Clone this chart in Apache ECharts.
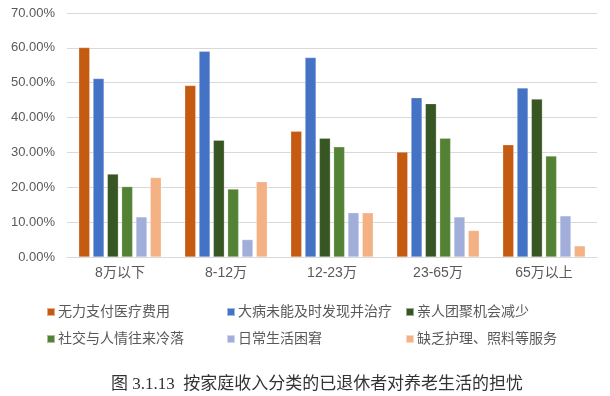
<!DOCTYPE html>
<html>
<head>
<meta charset="utf-8">
<script src="https://cdn.jsdelivr.net/npm/echarts@6/dist/echarts.min.js"></script>
<style>
html,body{margin:0;padding:0;background:#fff;}
#c{width:610px;height:396px;}
</style>
</head>
<body>
<div id="c"></div>
<script>
const categories = ['8万以下', '8-12万', '12-23万', '23-65万', '65万以上'];
const seriesNames = ['无力支付医疗费用', '大病未能及时发现并治疗', '亲人团聚机会减少', '社交与人情往来冷落', '日常生活困窘', '缺乏护理、照料等服务'];
const medical = [60.1, 49.2, 36.1, 30.1, 32.2];
const illness = [51.2, 59.0, 57.2, 45.7, 48.5];
const family = [23.8, 33.5, 34.1, 44.0, 45.3];
const social = [20.2, 19.5, 31.6, 34.1, 29.0];
const daily = [11.5, 5.0, 12.7, 11.5, 11.8];
const care = [22.8, 21.6, 12.7, 7.6, 3.2];
const yTicks = [0, 10, 20, 30, 40, 50, 60, 70];
const titleText = '图 3.1.13  按家庭收入分类的已退休者对养老生活的担忧';

const colors = ['#C55A11', '#4472C4', '#375623', '#548235', '#A0AED9', '#F4B183'];
const allData = [medical, illness, family, social, daily, care];

const chart = echarts.init(document.getElementById('c'));
const font = '"Liberation Sans", "Noto Sans CJK SC", sans-serif';
function legendAt(left, names) {
  return {
    orient: 'vertical', left: left, top: 300, itemWidth: 8, itemHeight: 8, itemGap: 13,
    icon: 'rect',
    data: names,
    textStyle: { fontSize: 14, color: '#595959', fontFamily: font, padding: [0, 0, 0, -2] }
  };
}
chart.setOption({
  animation: false,
  color: colors,
  title: {
    text: titleText, left: 312, textAlign: 'center', top: 371,
    textStyle: { fontSize: 17, fontWeight: 'normal', color: '#333', fontFamily: '"Liberation Serif", "Noto Sans CJK SC", serif' }
  },
  legend: [
    legendAt(41, [seriesNames[0], seriesNames[3]]),
    legendAt(221, [seriesNames[1], seriesNames[4]]),
    legendAt(400, [seriesNames[2], seriesNames[5]])
  ],
  grid: { left: 67, right: 13, top: 13, bottom: 139 },
  xAxis: {
    type: 'category', data: categories,
    axisTick: { show: false },
    axisLine: { lineStyle: { color: '#d9d9d9', width: 1 } },
    axisLabel: { fontSize: 14, color: '#595959', fontFamily: font, margin: 9 }
  },
  yAxis: {
    type: 'value', min: yTicks[0], max: yTicks[yTicks.length - 1], interval: 10,
    axisLine: { show: false }, axisTick: { show: false },
    splitLine: { lineStyle: { color: '#d9d9d9', width: 1 } },
    axisLabel: { fontSize: 13, color: '#595959', fontFamily: font, margin: 12,
      formatter: v => v.toFixed(2) + '%' }
  },
  series: seriesNames.map((n, i) => ({
    name: n, type: 'bar', data: allData[i], barWidth: 11, barGap: '30%',
    itemStyle: { color: colors[i], borderColor: 'rgba(255,255,255,0.5)', borderWidth: 0.5 }
  }))
});
</script>
</body>
</html>
